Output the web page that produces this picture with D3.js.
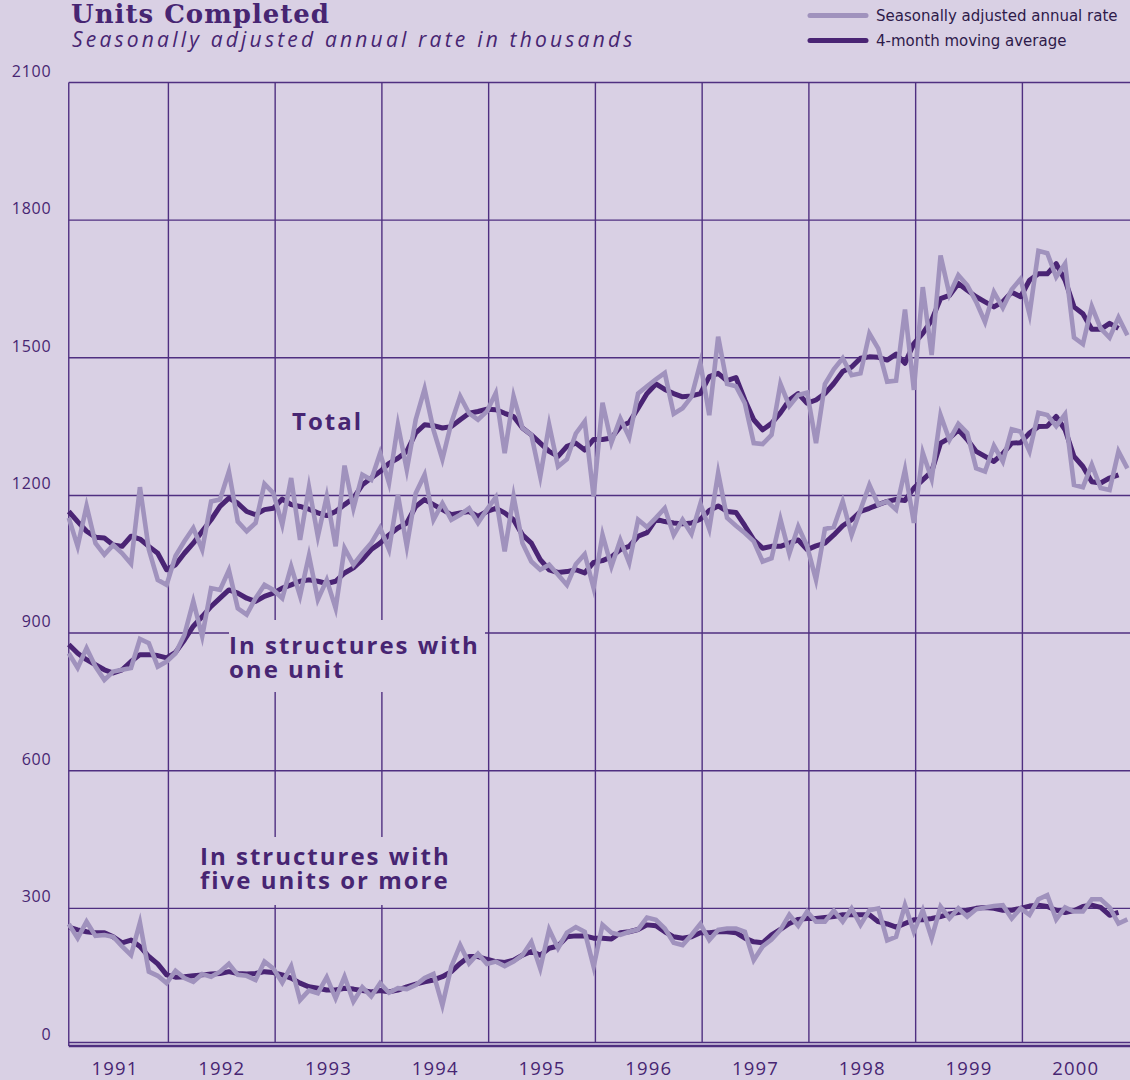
<!DOCTYPE html>
<html>
<head>
<meta charset="utf-8">
<script src="https://cdn.jsdelivr.net/npm/d3@7/dist/d3.min.js"></script>
<style>
  html, body { margin: 0; padding: 0; background: #d9d0e4; }
  svg { display: block; }
</style>
</head>
<body>
<svg id="chart" width="1130" height="1080"></svg>
<script>
/* Units completed, monthly Jan 1991 - Dec 2000, thousands (SAAR) */
var YEARS = [1991, 1992, 1993, 1994, 1995, 1996, 1997, 1998, 1999, 2000];
var Y_TICKS = [0, 300, 600, 900, 1200, 1500, 1800, 2100];

var TOTAL_RAW = [
  1151,1089,1177,1096,1071,1092,1074,1051,1218,1082,1016,1005,
  1068,1100,1129,1082,1187,1191,1252,1143,1122,1140,1225,1205,
  1136,1238,1103,1218,1111,1198,1089,1265,1172,1245,1234,1292,
  1227,1354,1256,1365,1432,1343,1279,1358,1416,1379,1365,1383,
  1423,1292,1416,1347,1332,1241,1354,1263,1279,1335,1361,1198,
  1402,1315,1368,1327,1422,1438,1453,1467,1378,1390,1415,1489,
  1375,1546,1443,1438,1401,1314,1312,1332,1443,1395,1419,1424,
  1314,1443,1475,1499,1462,1466,1553,1520,1448,1450,1605,1430,
  1654,1506,1723,1638,1680,1658,1622,1578,1643,1609,1649,1672,
  1595,1733,1728,1676,1705,1544,1530,1612,1564,1544,1588,1549
];
var TOTAL_MA = [
  1165,1143,1122,1109,1107,1092,1089,1111,1105,1089,1074,1038,
  1049,1074,1096,1122,1147,1176,1194,1183,1165,1158,1169,1172,
  1192,1180,1176,1170,1162,1156,1165,1180,1194,1223,1238,1252,
  1270,1281,1296,1336,1354,1352,1347,1350,1365,1379,1383,1388,
  1387,1379,1372,1347,1332,1314,1296,1285,1307,1314,1299,1322,
  1322,1325,1350,1359,1390,1422,1443,1431,1422,1415,1417,1422,
  1459,1466,1450,1457,1408,1365,1343,1357,1380,1408,1422,1401,
  1408,1422,1444,1470,1480,1499,1502,1501,1495,1508,1488,1531,
  1553,1582,1629,1636,1662,1647,1633,1622,1611,1622,1643,1633,
  1669,1683,1683,1705,1669,1611,1596,1562,1562,1575,1564
];
var ONE_RAW = [
  856,824,867,827,798,816,820,824,887,878,827,838,
  856,896,969,893,998,994,1037,954,940,976,1005,994,
  976,1045,981,1069,973,1016,954,1085,1049,1074,1096,1129,
  1082,1201,1089,1205,1245,1147,1183,1147,1158,1172,1140,1169,
  1196,1078,1198,1096,1056,1038,1049,1027,1005,1050,1072,998,
  1114,1045,1103,1053,1147,1131,1151,1172,1114,1147,1116,1182,
  1127,1249,1151,1134,1118,1100,1056,1063,1148,1073,1132,1089,
  1016,1127,1131,1187,1114,1169,1223,1180,1187,1169,1256,1140,
  1293,1236,1375,1321,1356,1336,1259,1252,1308,1274,1344,1339,
  1296,1380,1375,1351,1377,1223,1218,1267,1216,1212,1296,1259
];
var ONE_MA = [
  875,856,842,831,820,813,820,838,853,853,851,846,
  858,885,915,936,958,976,994,987,976,969,980,987,
  998,1005,1013,1016,1013,1008,1013,1031,1042,1060,1082,1096,
  1114,1129,1140,1176,1191,1180,1169,1158,1162,1165,1154,1165,
  1172,1162,1147,1114,1096,1060,1038,1032,1034,1038,1031,1054,
  1058,1066,1082,1089,1111,1119,1148,1143,1140,1138,1140,1148,
  1167,1177,1165,1163,1134,1103,1085,1089,1089,1096,1103,1082,
  1090,1096,1114,1134,1147,1165,1172,1180,1187,1191,1189,1216,
  1234,1252,1314,1325,1343,1322,1296,1285,1274,1291,1314,1315,
  1336,1350,1351,1372,1343,1285,1263,1230,1227,1238,1245
];
var FIVE_RAW = [
  266,235,271,240,242,238,217,198,269,162,153,137,
  164,148,140,157,151,162,179,155,153,144,184,169,
  138,174,100,121,115,150,104,151,97,128,108,137,
  116,126,124,133,148,157,89,173,220,180,201,179,
  184,174,184,198,227,169,254,213,247,259,249,173,
  264,247,242,249,254,280,275,256,225,220,242,266,
  231,253,256,256,249,187,217,232,253,286,262,293,
  271,271,295,271,300,264,296,300,230,238,307,249,
  296,235,304,278,300,282,298,302,305,307,278,300,
  286,320,329,276,302,293,293,320,320,302,267,276
];
var FIVE_MA = [
  259,253,249,247,247,238,225,231,217,195,179,155,
  150,151,153,155,157,158,162,158,157,158,162,160,
  155,148,137,129,126,122,122,126,124,121,118,121,
  118,122,129,135,140,144,151,162,180,195,195,189,
  184,182,187,198,206,198,213,218,238,240,240,235,
  235,233,247,249,254,264,262,249,238,235,238,247,
  247,249,249,247,235,227,225,242,254,267,276,278,
  278,280,282,286,286,286,286,271,266,259,267,275,
  275,278,282,288,291,296,300,302,300,296,296,300,
  305,307,304,296,291,295,304,307,302,285,291
];

var SERIES = [
  { raw: TOTAL_RAW, ma: TOTAL_MA },
  { raw: ONE_RAW,   ma: ONE_MA },
  { raw: FIVE_RAW,  ma: FIVE_MA }
];

var BG = "#d9d0e4", GRID = "#4f2f80", LIGHT = "#a092bd", DARK = "#4a2474", INK = "#472572";
var W = 1130, H = 1080;
var SANS = "'Open Sans', 'DejaVu Sans', sans-serif";

var svg = d3.select("#chart");
svg.append("rect").attr("width", W).attr("height", H).attr("fill", BG);

// decimal year -> x ; thousands -> y
var x = d3.scaleLinear().domain([1991, 2001]).range([61.65, 1129.15]);
var y = d3.scaleLinear().domain([0, 2100]).range([1046, 82.5]);
function mx(i) { return x(1991 + (i + 0.8) / 12); }
var left = mx(0), base = y(0) - 3.5;

// ---- grid ---------------------------------------------------------------
var grid = svg.append("g").attr("stroke", GRID).attr("stroke-width", 1.4);
Y_TICKS.forEach(function (t) {
  grid.append("line").attr("x1", left).attr("x2", W).attr("y1", y(t)).attr("y2", y(t))
    .attr("stroke-width", t === 0 ? 1.3 : 1.4)
    .attr("transform", t === 0 ? "translate(0,-3.5)" : null);
});
YEARS.slice(1).forEach(function (yr) {
  grid.append("line").attr("x1", x(yr)).attr("x2", x(yr)).attr("y1", y(2100)).attr("y2", base);
});
grid.append("line").attr("x1", left).attr("x2", left).attr("y1", y(2100)).attr("y2", y(0));
svg.append("line").attr("x1", left).attr("x2", W).attr("y1", y(0)).attr("y2", y(0))
  .attr("stroke", GRID).attr("stroke-width", 2.4);

// ---- label knock-outs (background boxes that break the grid) -------------
svg.append("rect").attr("x", 229).attr("y", 620).attr("width", 256).attr("height", 72).attr("fill", BG);
svg.append("rect").attr("x", 195).attr("y", 837).attr("width", 265).attr("height", 68).attr("fill", BG);

// ---- axis labels --------------------------------------------------------
Y_TICKS.forEach(function (t) {
  svg.append("text").attr("x", 51.5).attr("y", y(t) - 6).attr("text-anchor", "end")
    .attr("fill", INK).attr("font-family", SANS).attr("font-size", 16)
    .attr("letter-spacing", 0.8).text(t);
});
YEARS.forEach(function (yr) {
  svg.append("text").attr("x", x(yr + 0.5)).attr("y", 1075).attr("text-anchor", "middle")
    .attr("fill", INK).attr("font-family", SANS).attr("font-size", 18.5)
    .attr("letter-spacing", 1.2).text(yr);
});

// ---- lines --------------------------------------------------------------
var line = d3.line().x(function (d, i) { return mx(i); }).y(function (d) { return y(d); });
var plot = svg.append("g");
SERIES.forEach(function (s) {
  plot.append("path").attr("d", line(s.ma)).attr("fill", "none")
    .attr("stroke", DARK).attr("stroke-width", 5).attr("stroke-linejoin", "round");
});
SERIES.forEach(function (s) {
  plot.append("path").attr("d", line(s.raw)).attr("fill", "none")
    .attr("stroke", LIGHT).attr("stroke-width", 4.6).attr("stroke-linejoin", "miter")
    .attr("stroke-miterlimit", 6);
});

// ---- series labels ------------------------------------------------------
function label(lines, lx, ly) {
  var t = svg.append("text").attr("fill", INK).attr("font-family", SANS)
    .attr("font-weight", 700).attr("font-size", 24).attr("letter-spacing", 2);
  lines.forEach(function (s, k) {
    t.append("tspan").attr("x", lx).attr("y", ly + k * 23.5).text(s);
  });
}
label(["Total"], 292, 430);
label(["In structures with", "one unit"], 229, 654);
label(["In structures with", "five units or more"], 200, 865);

// ---- title --------------------------------------------------------------
svg.append("text").attr("x", 71).attr("y", 23).attr("fill", INK)
  .attr("font-family", "'DejaVu Serif', serif").attr("font-weight", 700)
  .attr("font-size", 26).attr("letter-spacing", 1).text("Units Completed");
svg.append("text").attr("x", 72).attr("y", 47).attr("fill", INK)
  .attr("font-family", SANS).attr("font-style", "italic")
  .attr("font-size", 21).attr("letter-spacing", 3.2)
  .text("Seasonally adjusted annual rate in thousands");

// ---- legend -------------------------------------------------------------
var LEGEND = [
  { name: "Seasonally adjusted annual rate", color: LIGHT, y: 15.5 },
  { name: "4-month moving average", color: DARK, y: 40.5 }
];
LEGEND.forEach(function (d) {
  svg.append("line").attr("x1", 810).attr("x2", 866).attr("y1", d.y).attr("y2", d.y)
    .attr("stroke", d.color).attr("stroke-width", 5).attr("stroke-linecap", "round");
  svg.append("text").attr("x", 876).attr("y", d.y + 5.3).attr("fill", "#2e1a4a")
    .attr("font-family", "'DejaVu Sans', sans-serif").attr("font-size", 15).text(d.name);
});
</script>
</body>
</html>
